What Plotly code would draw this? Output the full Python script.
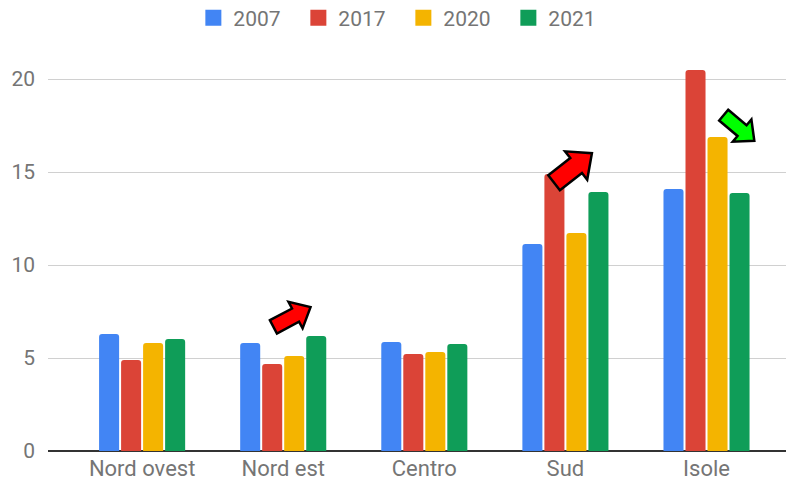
import math
import plotly.graph_objects as go

categories = ["Nord ovest", "Nord est", "Centro", "Sud", "Isole"]
years = ["2007", "2017", "2020", "2021"]
v2007 = [6.29, 5.81, 5.86, 11.13, 14.09]
v2017 = [4.89, 4.68, 5.21, 14.89, 20.48]
v2020 = [5.81, 5.11, 5.32, 11.72, 16.88]
v2021 = [6.02, 6.18, 5.75, 13.92, 13.87]
colors = ["#4285F4", "#DB4437", "#F4B400", "#0F9D58"]
yticks = [0, 5, 10, 15, 20]

OFF = 8  # page body margin
W, H = 794 - OFF, 482 - OFF
ML, MR, MT, MB = 48 - OFF, 0, 40 - OFF, 31

fig = go.Figure()
for name, vals, col in zip(years, [v2007, v2017, v2020, v2021], colors):
    fig.add_trace(go.Bar(name=name, x=categories, y=vals, marker_color=col,
                         marker_line_width=0, showlegend=False))
    fig.add_trace(go.Scatter(name=name, x=[None], y=[None], mode="markers",
                             marker=dict(symbol="square", size=16, color=col),
                             showlegend=True))


def px2paper(px, py):
    px -= OFF
    py -= OFF
    return (px - ML) / (W - ML - MR), (H - MB - py) / (H - MT - MB)


def arrow_path(cx, cy, angle_deg, length, body, head, head_len):
    a = math.radians(angle_deg)
    ux, uy = math.cos(a), -math.sin(a)
    nx, ny = -uy, ux
    L2 = length / 2
    pts_local = [
        (-L2, -body / 2), (L2 - head_len, -body / 2), (L2 - head_len, -head / 2),
        (L2, 0), (L2 - head_len, head / 2), (L2 - head_len, body / 2), (-L2, body / 2),
    ]
    pts = []
    for s, t in pts_local:
        pts.append(px2paper(cx + s * ux + t * nx, cy + s * uy + t * ny))
    return "M " + " L ".join(f"{x:.4f},{y:.4f}" for x, y in pts) + " Z"


arrows = [
    (292, 317, 28, 42, 15, 30, 17, "#FF0000"),
    (573, 168, 38, 48, 19, 36, 20, "#FF0000"),
    (739, 128, -40, 40, 14, 29, 16, "#00FF00"),
]
for cx, cy, ang, ln, bd, hd, hl, col in arrows:
    fig.add_shape(type="path", xref="paper", yref="paper",
                  path=arrow_path(cx, cy, ang, ln, bd, hd, hl),
                  fillcolor=col, line=dict(color="black", width=2.5))

fig.update_layout(
    width=W, height=H,
    margin=dict(l=ML, r=MR, t=MT, b=MB, autoexpand=False),
    plot_bgcolor="white", paper_bgcolor="white",
    barmode="group", bargap=0.376, bargroupgap=0.09,
    barcornerradius=3,
    font=dict(family="Roboto, Arial, sans-serif", size=21, color="#757575"),
    legend=dict(orientation="h", x=0.503, xanchor="center", xref="container",
                y=1 + (MT - (18 - OFF)) / (H - MT - MB), yanchor="middle",
                yref="paper",
                font=dict(size=21, color="#757575"), entrywidth=60,
                entrywidthmode="pixels"),
    xaxis=dict(range=[-0.667, 4.62], showgrid=False, ticks="",
               showline=False, ticklabelstandoff=2,
               tickfont=dict(size=22, color="#757575")),
    yaxis=dict(range=[0, (H - MT - MB) / 18.6], tickvals=yticks,
               showgrid=True, gridcolor="#d0d0d0", gridwidth=1,
               zeroline=True, zerolinecolor="#333333", zerolinewidth=1.5,
               ticks="", ticklabelstandoff=12,
               tickfont=dict(size=21, color="#757575")),
)

fig.write_html("out.html")
